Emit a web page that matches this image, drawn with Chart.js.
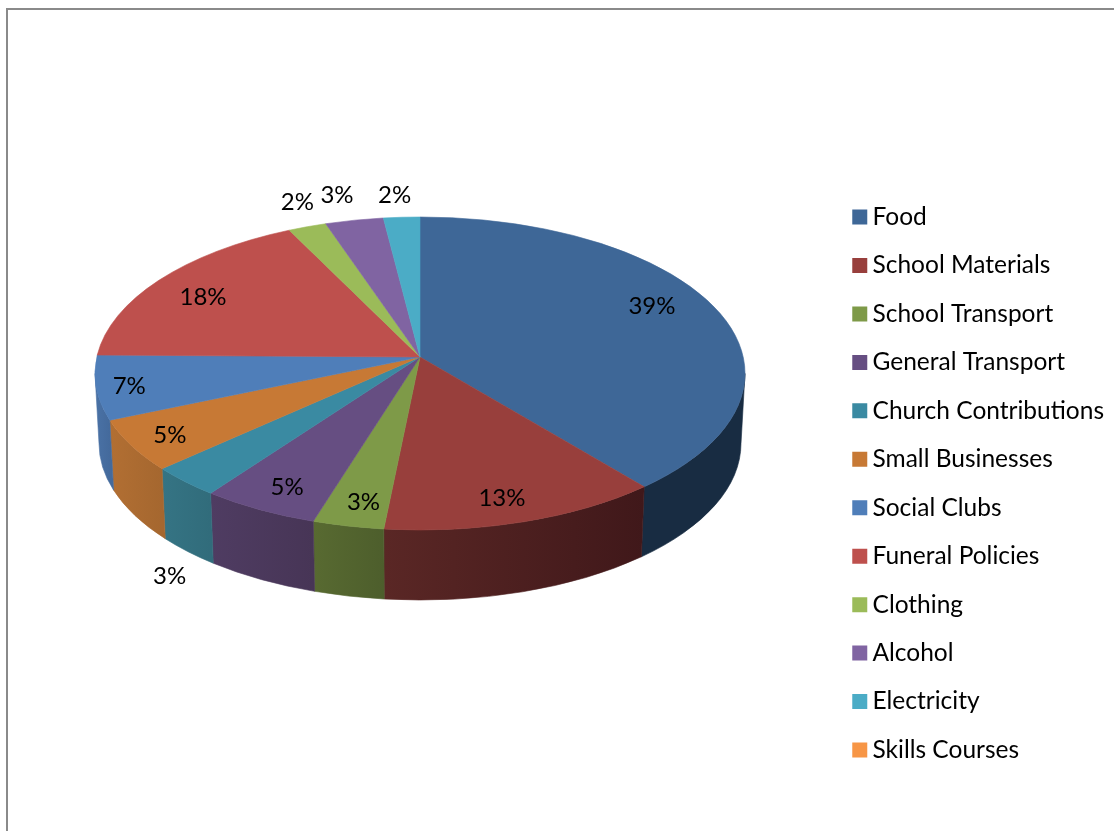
<!DOCTYPE html>
<html>
<head>
<meta charset="utf-8">
<title>Household spending</title>
<script src="https://cdn.jsdelivr.net/npm/chart.js@4"></script>
<style>
    html,body{margin:0;padding:0;background:#fff;overflow:hidden}
    #wrap{position:relative;width:1114px;height:831px}
    #frame{position:absolute;left:6px;top:8px;right:-4px;bottom:-4px;border:2px solid #8a8a8a}
    canvas{position:absolute;left:0;top:0}
</style>
</head>
<body>
<div id="wrap">
    <div id="frame"></div>
    <canvas id="pie" width="1114" height="831"></canvas>
</div>
<script>
const categories = ['Food','School Materials','School Transport','General Transport','Church Contributions','Small Businesses','Social Clubs','Funeral Policies','Clothing','Alcohol','Electricity','Skills Courses'];
const shares = [39,12.6,3.2,5.3,3.2,5.3,6.6,17.5,2.1,3.2,2,0];
const topColors = ['#3e6797','#983f3c','#7e9a48','#664e82','#3a8aa2','#c77935','#4f7eb9','#be504d','#9bbb59','#8064a2','#4bacc6','#f79646'];
const wallLeft = ['#182c42','#5a2725','#586a31','#4f3c62','#357484','#b26f33','#4a72a6','#8a3a38','#71883f','#5d4976','#367d90','#b46d33'];
const wallRight = ['#182c42','#40181a','#4d5e2c','#473556','#316c7b','#a5672f','#446a9c','#8a3a38','#71883f','#5d4976','#367d90','#b46d33'];
// label distance from apex as a share of the radius, and turn away from the slice middle (deg)
const labelRadius = [.825,.852,.857,.85,1.396,.873,.9,.817,1.21,1.227,1.19,1];
const labelTurn = [-5.7,1.15,-.8,-.4,-13.2,0,0,-1.3,1.95,-.67,-.67,0];

const FONT = 'Lato';
const LABEL_SIZE = 24;
const LEGEND_SIZE = 24.5;

// the tilted disc: a circle seen in perspective, so the apex sits above the ellipse centre
const apex = {x:420, y:357};
const rim = {rx:325, ry:156.5, cy:373.5};
const base = {rx:321, drop:70};
const persp = .1054, scaleX = 323.2, scaleY = 154.8;

function project(angle, r=1){
    const x = Math.cos(angle)*r, y = Math.sin(angle)*r;
    const w = 1 - persp*y;
    return {x: apex.x + scaleX*x/w, y: apex.y + scaleY*y/w};
}
// the parameter of the same rim point on the drawn ellipse, unwrapped next to the angle
function rimParam(angle){
    const p = project(angle);
    let t = Math.atan2((p.y-rim.cy)/rim.ry, (p.x-apex.x)/rim.rx);
    while(t < angle-Math.PI) t += Math.PI*2;
    while(t > angle+Math.PI) t -= Math.PI*2;
    return t;
}

function drawWall(ctx, t1, t2, i){
    // only the front half of the side can be seen
    [0,Math.PI*2].forEach(turn=>{
        const lo = Math.max(t1-turn, 0), hi = Math.min(t2-turn, Math.PI);
        if(hi <= lo) return;
        const xa = apex.x+rim.rx*Math.cos(hi), xb = apex.x+rim.rx*Math.cos(lo);
        const g = ctx.createLinearGradient(xa,0,xb,0);
        g.addColorStop(0, wallLeft[i]);
        g.addColorStop(1, wallRight[i]);
        ctx.beginPath();
        ctx.ellipse(apex.x, rim.cy, rim.rx, rim.ry, 0, lo, hi);
        ctx.ellipse(apex.x, rim.cy+base.drop, base.rx, rim.ry, 0, hi, lo, true);
        ctx.closePath();
        ctx.fillStyle = g; ctx.strokeStyle = g; ctx.lineWidth = .6;
        ctx.fill(); ctx.stroke();
    });
}

const pie3d = {
    id:'pie3d',
    beforeDatasetDraw(chart, args){
        const ctx = chart.ctx, arcs = args.meta.data;
        ctx.save();
        arcs.forEach((arc,i)=>{
            if(arc.endAngle-arc.startAngle <= 0) return;
            const t1 = rimParam(arc.startAngle), t2 = rimParam(arc.endAngle);
            drawWall(ctx, t1, t2, i);
            ctx.beginPath();
            ctx.moveTo(apex.x, apex.y);
            ctx.ellipse(apex.x, rim.cy, rim.rx, rim.ry, 0, t1, t2);
            ctx.closePath();
            ctx.fillStyle = topColors[i]; ctx.strokeStyle = topColors[i]; ctx.lineWidth = .6;
            ctx.fill(); ctx.stroke();
        });
        ctx.font = LABEL_SIZE+'px '+FONT;
        ctx.fillStyle = '#000';
        ctx.textAlign = 'center';
        ctx.textBaseline = 'middle';
        arcs.forEach((arc,i)=>{
            if(!shares[i]) return;
            const mid = (arc.startAngle+arc.endAngle)/2 + labelTurn[i]*Math.PI/180;
            const p = project(mid, labelRadius[i]);
            ctx.fillText(Math.round(shares[i])+'%', p.x, p.y+2);
        });
        ctx.restore();
        return false;
    }
};

new Chart(document.getElementById('pie'),{
    type:'pie',
    data:{labels:categories, datasets:[{data:shares, backgroundColor:topColors}]},
    options:{
        responsive:false,
        animation:false,
        layout:{padding:{top:136,right:0}},
        plugins:{
            tooltip:{enabled:false},
            legend:{
                position:'right',
                labels:{
                    font:{family:FONT,size:LEGEND_SIZE},
                    color:'#000',
                    padding:23.95,
                    boxWidth:1,
                    boxHeight:1,
                    generateLabels:()=>categories.map((c,i)=>({text:c,fillStyle:topColors[i],strokeStyle:topColors[i],lineWidth:14,lineJoin:'miter',index:i}))
                }
            }
        }
    },
    plugins:[pie3d]
});
</script>
</body>
</html>
